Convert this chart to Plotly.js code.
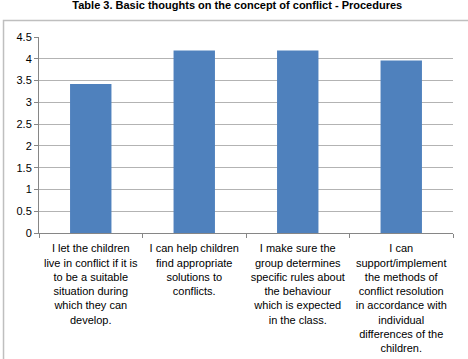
<!DOCTYPE html>
<html>
<head>
<meta charset="utf-8">
<script src="https://cdn.plot.ly/plotly-3.0.1.min.js"></script>
<style>
  html, body { margin: 0; padding: 0; background: #ffffff; }
  #chart { width: 468px; height: 359px; }
</style>
</head>
<body>
<div id="chart"></div>
<script>
const chartTitle = "Table 3. Basic thoughts on the concept of conflict - Procedures";

const categories = [
  "I let the children<br>live in conflict if it is<br>to be a suitable<br>situation during<br>which they can<br>develop.",
  "I can help children<br>find appropriate<br>solutions to<br>conflicts.",
  "I make sure the<br>group determines<br>specific rules about<br>the behaviour<br>which is expected<br>in the class.",
  "I can<br>support/implement<br>the methods of<br>conflict resolution<br>in accordance with<br>individual<br>differences of the<br>children."
];

const values = [3.42, 4.19, 4.19, 3.96];

const yTickValues = [0, 0.5, 1, 1.5, 2, 2.5, 3, 3.5, 4, 4.5];
const yTickLabels = ["0", "0.5", "1", "1.5", "2", "2.5", "3", "3.5", "4", "4.5"];

const trace = {
  type: "bar",
  x: categories,
  y: values,
  marker: { color: "#4F81BD" },
  hoverinfo: "none"
};

const layout = {
  width: 468,
  height: 359,
  margin: { l: 39, r: 15, t: 37, b: 126, pad: 0 },
  paper_bgcolor: "#ffffff",
  plot_bgcolor: "#ffffff",
  showlegend: false,
  bargap: 0.6,
  font: { family: "Liberation Sans, Arial, sans-serif", size: 11, color: "#000000" },
  title: {
    text: "<b>" + chartTitle + "</b>",
    font: { family: "Liberation Sans, Arial, sans-serif", size: 11, color: "#000000" },
    xref: "container", yref: "container",
    x: 0.507, y: 0.997, xanchor: "center", yanchor: "top"
  },
  xaxis: {
    type: "category",
    showgrid: false,
    showline: true,
    linecolor: "#868686",
    linewidth: 1,
    ticks: "outside",
    tickson: "boundaries",
    ticklen: 4,
    tickcolor: "#868686",
    tickangle: 0,
    ticklabelstandoff: 5,
    tickfont: { family: "Liberation Sans, Arial, sans-serif", size: 11, color: "#000000" },
    zeroline: false,
    fixedrange: true
  },
  yaxis: {
    range: [0, 4.5],
    tickvals: yTickValues,
    ticktext: yTickLabels,
    showgrid: true,
    gridcolor: "#b3b3b3",
    gridwidth: 1,
    showline: true,
    linecolor: "#868686",
    linewidth: 1,
    ticks: "outside",
    ticklen: 4,
    tickcolor: "#868686",
    tickfont: { family: "Liberation Sans, Arial, sans-serif", size: 11, color: "#000000" },
    zeroline: false,
    fixedrange: true
  },
  shapes: [{
    type: "rect",
    xref: "paper", yref: "paper",
    x0: -0.0857, x1: 1.05,
    y0: -0.7, y1: 1.084,
    line: { color: "#bfbfbf", width: 1.5 },
    fillcolor: "rgba(0,0,0,0)",
    layer: "below"
  }]
};

Plotly.newPlot("chart", [trace], layout, { staticPlot: true, displayModeBar: false });
</script>
</body>
</html>
